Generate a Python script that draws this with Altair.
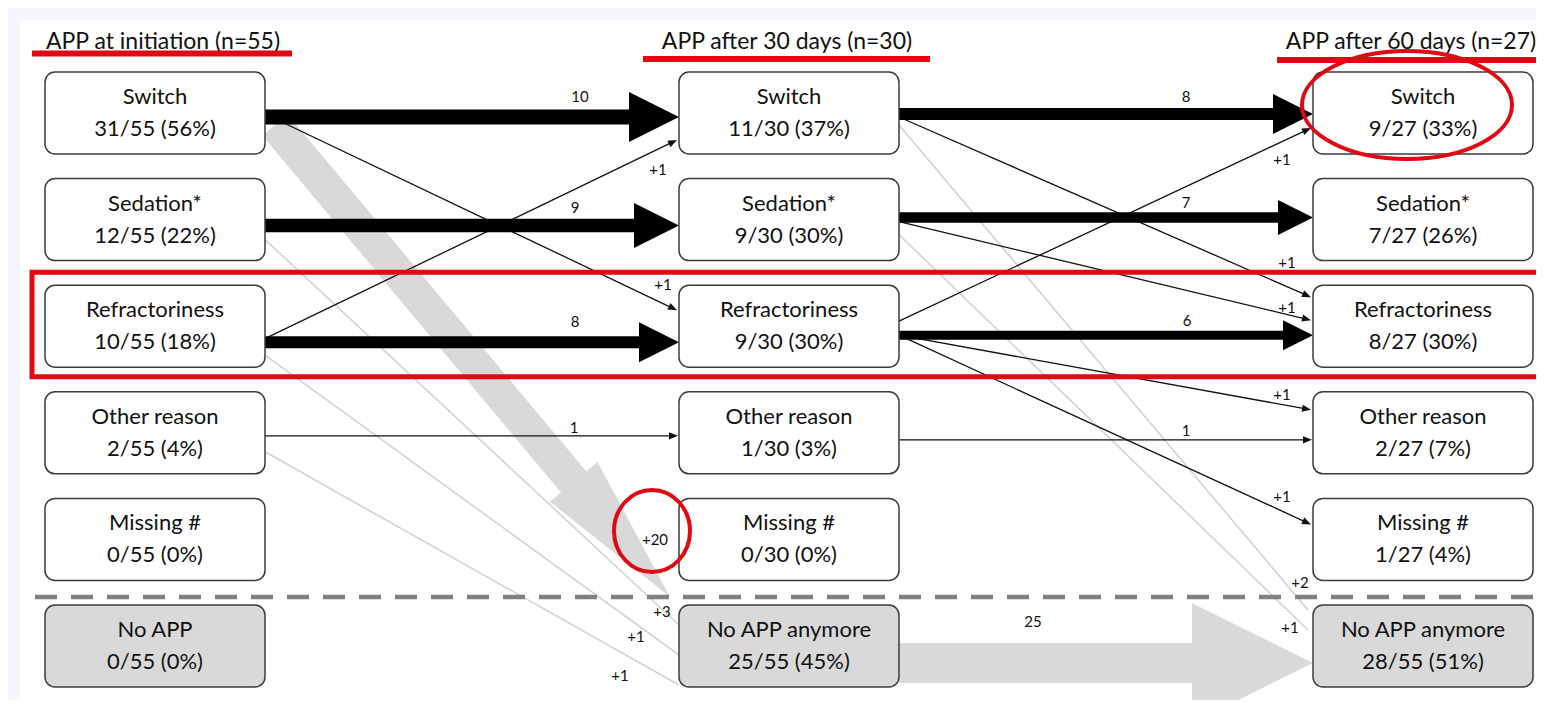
import math
import altair as alt
import pandas as pd

# ---------------- data ----------------
stage_titles = ["APP at initiation (n=55)", "APP after 30 days (n=30)", "APP after 60 days (n=27)"]
row_labels_initiation = ["Switch", "Sedation*", "Refractoriness", "Other reason", "Missing #", "No APP"]
row_labels_later = ["Switch", "Sedation*", "Refractoriness", "Other reason", "Missing #", "No APP anymore"]
values_initiation = ["31/55 (56%)", "12/55 (22%)", "10/55 (18%)", "2/55 (4%)", "0/55 (0%)", "0/55 (0%)"]
values_30_days = ["11/30 (37%)", "9/30 (30%)", "9/30 (30%)", "1/30 (3%)", "0/30 (0%)", "25/55 (45%)"]
values_60_days = ["9/27 (33%)", "7/27 (26%)", "8/27 (30%)", "2/27 (7%)", "1/27 (4%)", "28/55 (51%)"]

# transitions: from stage, from row, to row, number of patients, printed label
flow_stage = [0, 0, 0, 0, 0, 0, 0, 0, 0, 0, 1, 1, 1, 1, 1, 1, 1, 1, 1, 1, 1, 1]
flow_src = [0, 1, 2, 3, 0, 2, 0, 1, 2, 3, 0, 1, 2, 3, 2, 0, 1, 2, 2, 5, 0, 1]
flow_dst = [0, 1, 2, 3, 2, 0, 5, 5, 5, 5, 0, 1, 2, 3, 0, 2, 2, 3, 4, 5, 5, 5]
flow_n = [10, 9, 8, 1, 1, 1, 20, 3, 1, 1, 8, 7, 6, 1, 1, 1, 1, 1, 1, 25, 2, 1]
flow_text = ["10", "9", "8", "1", "+1", "+1", "+20", "+3", "+1", "+1",
             "8", "7", "6", "1", "+1", "+1", "+1", "+1", "+1", "25", "+2", "+1"]

# ---------------- layout ----------------
W, H = 1528, 692
X0, Y0 = 8, 8
BOX_W, BOX_H = 220, 82
COL_LEFT0, COL_STEP = 45, 634
ROW_TOP0, ROW_STEP = 72, 106.6
FONT = "Lato"
RED = "#e30613"
INK = "#111111"

# per flow: start dx (from source right), start dy, end dx (from target left), end dy, label dx, label dy (from end)
flow_geom = [
    (0, 4, 0, 4, -99, -20),
    (0, 6, 0, 6, -104, -18),
    (0, 16, 0, 16, -104, -20),
    (0, 3, -1, 3, -104, -8),
    (0, 1, -2, -16, -14, -25),
    (3, 11, -2, 27, -19, 30),
    (10, 12, -9, -49, -15, -57),
    (0, 20, 0, -21, -17, -13),
    (0, 29, 0, 9, -43, -18),
    (0, 19, 0, 39, -59, -9),
    (0, 1, 0, 1, -127, -17),
    (0, -2, 0, -2, -127, -15),
    (0, 9, 0, 9, -126, -14),
    (0, 7, -1, 7, -126, -9),
    (0, -5, -2, 15, -29, 32),
    (0, 4, -2, -29, -24, -34),
    (0, 2, -2, -6, -24, -12),
    (0, 9, -2, -23, -29, -15),
    (0, 9, -2, -15, -29, -27),
    (0, 17, 0, 17, -280, -41),
    (0, 12, -5, -36, -8, -27),
    (0, 15, -5, -16, -18, -2),
]
# gray wide arrows: shaft width, head length, head half width
gray_wide = {6: (33, 150, 31), 19: (40, 121, 60)}
header_dx = [8, -2, -12]


def col_left(c):
    return COL_LEFT0 + c * COL_STEP


def row_top(r):
    return ROW_TOP0 + r * ROW_STEP


def row_mid(r):
    return row_top(r) + BOX_H / 2


XS = alt.Scale(domain=[X0, X0 + W], nice=False, zero=False)
YS = alt.Scale(domain=[Y0, Y0 + H], reverse=True, nice=False, zero=False)


def X(f="x"):
    return alt.X(f"{f}:Q", scale=XS, axis=None)


def Y(f="y"):
    return alt.Y(f"{f}:Q", scale=YS, axis=None)


def tri(half):
    return f"M-1,{-half}L1,0L-1,{half}Z"


def ellipse(r):
    k = 0.5523
    return (f"M-1,0C-1,{-r*k} {-k},{-r} 0,{-r}C{k},{-r} 1,{-r*k} 1,0"
            f"C1,{r*k} {k},{r} 0,{r}C{-k},{r} -1,{r*k} -1,0Z")


# ---------------- boxes ----------------
names = [row_labels_initiation, row_labels_later, row_labels_later]
vals = [values_initiation, values_30_days, values_60_days]
box_rows = []
for c in range(3):
    for r in range(6):
        box_rows.append(dict(
            x=col_left(c), x2=col_left(c) + BOX_W, y=row_top(r), y2=row_top(r) + BOX_H,
            xm=col_left(c) + BOX_W / 2, y1=row_mid(r) - 16, yv=row_mid(r) + 16,
            name=names[c][r], val=vals[c][r],
            fill="#d9d9d9" if r == 5 else "#ffffff"))
boxes = pd.DataFrame(box_rows)

# ---------------- flows ----------------
gray_thin, black_thin, black_thin_heads, thick_shaft, thick_heads, labels = [], [], [], [], [], []
gray_wide_shaft, gray_wide_heads = [], {}
for i in range(len(flow_n)):
    s, a, b, n = flow_stage[i], flow_src[i], flow_dst[i], flow_n[i]
    sdx, sdy, edx, edy, ldx, ldy = flow_geom[i]
    sx = col_left(s) + BOX_W + sdx
    sy = row_mid(a) + sdy
    ex = col_left(s + 1) + edx
    ey = row_mid(b) + edy
    dx, dy = ex - sx, ey - sy
    L = math.hypot(dx, dy)
    ux, uy = dx / L, dy / L
    ang = math.degrees(math.atan2(dy, dx)) % 360
    labels.append(dict(x=ex + ldx, y=ey + ldy, t=flow_text[i]))
    if i in gray_wide:
        sw, hl, hh = gray_wide[i]
        gray_wide_shaft.append(dict(x=sx, y=sy, x2=ex - ux * (hl - 2), y2=ey - uy * (hl - 2), w=sw))
        gray_wide_heads[i] = (pd.DataFrame([dict(x=ex - ux * hl / 2, y=ey - uy * hl / 2,
                                                  a=ang, sz=hl * hl)]), hh / (hl / 2))
    elif b == 5:
        gray_thin.append(dict(x=sx, y=sy, x2=ex, y2=ey))
    elif a == b and n > 1:
        hl = 5 * n
        thick_shaft.append(dict(x=sx, y=sy, x2=ex - hl + 1, y2=ey, w=1.5 * n))
        thick_heads.append(dict(x=ex - hl / 2, y=ey, sz=hl * hl))
    else:
        black_thin.append(dict(x=sx, y=sy, x2=ex - ux * 5, y2=ey - uy * 5))
        black_thin_heads.append(dict(x=ex - ux * 4.5, y=ey - uy * 4.5, a=ang))

layers = []

# content background
layers.append(alt.Chart(pd.DataFrame([dict(x=20, x2=1600, y=20, y2=800)])).mark_rect(
    fill="white", clip=True).encode(x=X(), x2="x2:Q", y=Y(), y2="y2:Q"))

layers.append(alt.Chart(pd.DataFrame(gray_thin)).mark_rule(
    color="#d2d2d2", strokeWidth=1.6).encode(x=X(), y=Y(), x2="x2:Q", y2="y2:Q"))
layers.append(alt.Chart(pd.DataFrame(gray_wide_shaft)).mark_rule(
    color="#d9d9d9", strokeCap="butt", clip=True).encode(
    x=X(), y=Y(), x2="x2:Q", y2="y2:Q", size=alt.Size("w:Q", scale=None)))
for i, (df, half) in gray_wide_heads.items():
    layers.append(alt.Chart(df).mark_point(
        shape=tri(half), filled=True, fill="#d9d9d9", strokeWidth=0, opacity=1, clip=True).encode(
        x=X(), y=Y(), size=alt.Size("sz:Q", scale=None), angle=alt.Angle("a:Q", scale=None)))

layers.append(alt.Chart(pd.DataFrame(black_thin)).mark_rule(
    color=INK, strokeWidth=1.3).encode(x=X(), y=Y(), x2="x2:Q", y2="y2:Q"))
layers.append(alt.Chart(pd.DataFrame(black_thin_heads)).mark_point(
    shape=tri(0.8), filled=True, fill=INK, strokeWidth=0, opacity=1, size=81).encode(
    x=X(), y=Y(), angle=alt.Angle("a:Q", scale=None)))
layers.append(alt.Chart(pd.DataFrame(thick_shaft)).mark_rule(
    color="#000000", strokeCap="butt").encode(
    x=X(), y=Y(), x2="x2:Q", y2="y2:Q", size=alt.Size("w:Q", scale=None)))
layers.append(alt.Chart(pd.DataFrame(thick_heads)).mark_point(
    shape=tri(1), filled=True, fill="#000000", strokeWidth=0, opacity=1).encode(
    x=X(), y=Y(), size=alt.Size("sz:Q", scale=None)))

# dashed separator between categories and "no APP"
sep_y = row_top(5) - 8
layers.append(alt.Chart(pd.DataFrame([dict(x=35, x2=1600, y=sep_y)])).mark_rule(
    color="#808080", strokeWidth=4.5, strokeDash=[22, 14], clip=True).encode(
    x=X(), x2="x2:Q", y=Y()))

# boxes and their text
layers.append(alt.Chart(boxes).mark_rect(
    cornerRadius=10, stroke="#3c3c3c", strokeWidth=1.5).encode(
    x=X(), x2="x2:Q", y=Y(), y2="y2:Q", fill=alt.Fill("fill:N", scale=None)))
layers.append(alt.Chart(boxes).mark_text(
    font=FONT, fontSize=22, color=INK).encode(x=X("xm"), y=Y("y1"), text="name:N"))
layers.append(alt.Chart(boxes).mark_text(
    font=FONT, fontSize=22, color=INK).encode(x=X("xm"), y=Y("yv"), text="val:N"))

# stage headers
headers = pd.DataFrame([dict(x=col_left(c) + BOX_W / 2 + header_dx[c], y=42, t=stage_titles[c])
                        for c in range(3)])
layers.append(alt.Chart(headers).mark_text(
    font=FONT, fontSize=23, color=INK, clip=True).encode(x=X(), y=Y(), text="t:N"))

# flow labels
layers.append(alt.Chart(pd.DataFrame(labels)).mark_text(
    font=FONT, fontSize=15, color=INK).encode(x=X(), y=Y(), text="t:N"))

# red annotations
underl = pd.DataFrame([dict(x=32, x2=292, y=53.5), dict(x=643, x2=930, y=59),
                       dict(x=1277, x2=1600, y=60)])
layers.append(alt.Chart(underl).mark_rule(color=RED, strokeWidth=6, clip=True).encode(
    x=X(), x2="x2:Q", y=Y()))
red_box = pd.DataFrame([dict(x=32, x2=1600, y=row_top(2) - 13, y2=row_top(2) + BOX_H + 9.5)])
layers.append(alt.Chart(red_box).mark_rect(
    fill=None, filled=False, stroke=RED, strokeWidth=5, clip=True).encode(
    x=X(), x2="x2:Q", y=Y(), y2="y2:Q"))
ell = pd.DataFrame([dict(x=col_left(2) + BOX_W / 2 - 16, y=row_mid(0) - 8)])
layers.append(alt.Chart(ell).mark_point(
    shape=ellipse(54 / 105), filled=False, stroke=RED, strokeWidth=4, opacity=1,
    size=210 * 210).encode(x=X(), y=Y()))
lab20 = labels[6]
circ = pd.DataFrame([dict(x=lab20["x"] - 3, y=lab20["y"] - 9)])
layers.append(alt.Chart(circ).mark_point(
    shape=ellipse(41 / 38), filled=False, stroke=RED, strokeWidth=4, opacity=1,
    size=76 * 76).encode(x=X(), y=Y()))

chart = alt.layer(*layers).properties(
    width=W, height=H, padding=0, background="#f5f5fc",
    autosize=alt.AutoSizeParams(type="none"),
).configure_view(strokeWidth=0)

chart.save("out.html", embed_options={"renderer": "svg", "actions": False})
